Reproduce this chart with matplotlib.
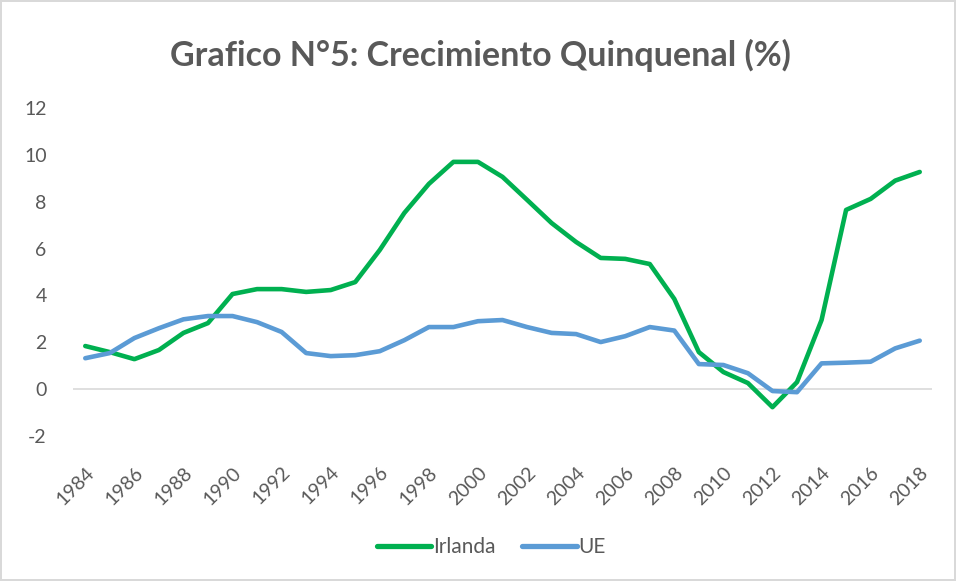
import matplotlib
matplotlib.use("Agg")
import matplotlib.pyplot as plt
from matplotlib.lines import Line2D

years = list(range(1984, 2019))
irlanda = [1.84, 1.58, 1.28, 1.67, 2.40, 2.82, 4.06, 4.27, 4.27, 4.15, 4.23, 4.57,
           5.94, 7.52, 8.76, 9.70, 9.70, 9.06, 8.08, 7.09, 6.28, 5.60, 5.56, 5.34,
           3.85, 1.58, 0.73, 0.26, -0.77, 0.30, 2.95, 7.65, 8.12, 8.90, 9.27]
ue = [1.32, 1.54, 2.18, 2.60, 2.98, 3.12, 3.12, 2.86, 2.44, 1.54, 1.41, 1.45,
      1.62, 2.09, 2.65, 2.65, 2.90, 2.95, 2.65, 2.40, 2.35, 2.01, 2.26, 2.65,
      2.50, 1.07, 1.03, 0.68, -0.08, -0.13, 1.10, 1.13, 1.17, 1.74, 2.07]
yticks = [-2, 0, 2, 4, 6, 8, 10, 12]
xtick_years = list(range(1984, 2019, 2))

title = "Grafico N°5: Crecimiento Quinquenal (%)"
txt = "#595959"
green = "#00B050"
blue = "#5B9BD5"

plt.rcParams['font.family'] = ['Lato', 'DejaVu Sans']

fig = plt.figure(figsize=(9.56, 5.81), dpi=100)
fig.patch.set_edgecolor("#d9d9d9")
fig.patch.set_linewidth(1.5)
ax = fig.add_axes([73/956, 1-436/581, (932-73)/956, (436-108)/581])

ax.plot(years, irlanda, color=green, lw=3.3, solid_capstyle='round', solid_joinstyle='round', zorder=3)
ax.plot(years, ue, color=blue, lw=3.3, solid_capstyle='round', solid_joinstyle='round', zorder=3)
ax.axhline(0, color="#d9d9d9", lw=1.2, zorder=1)

ax.set_xlim(1983.5, 2018.5)
ax.set_ylim(-2, 12)
ax.set_yticks(yticks)
ax.set_yticklabels([str(v) for v in yticks])
ax.set_xticks(xtick_years)
ax.set_xticklabels([str(y) for y in xtick_years], rotation=45, ha='right', rotation_mode='anchor')
for s in ax.spines.values():
    s.set_visible(False)
ax.tick_params(axis='both', length=0, colors=txt, labelsize=14)
ax.tick_params(axis='y', pad=19)
ax.tick_params(axis='x', pad=20)

fig.text(0.503, 1-55/581, title, ha='center', va='center', fontsize=24.5, fontweight='bold', color=txt)

handles = [Line2D([], [], color=green, lw=3.8, solid_capstyle='round'),
           Line2D([], [], color=blue, lw=3.8, solid_capstyle='round')]
fig.legend(handles, ["Irlanda", "UE"], loc='center', bbox_to_anchor=(0.514, 1-547/581),
           ncol=2, frameon=False, fontsize=15, labelcolor=txt, handlelength=2.6,
           handletextpad=0.1, columnspacing=1.3)

fig.savefig("out.png", dpi=100)
